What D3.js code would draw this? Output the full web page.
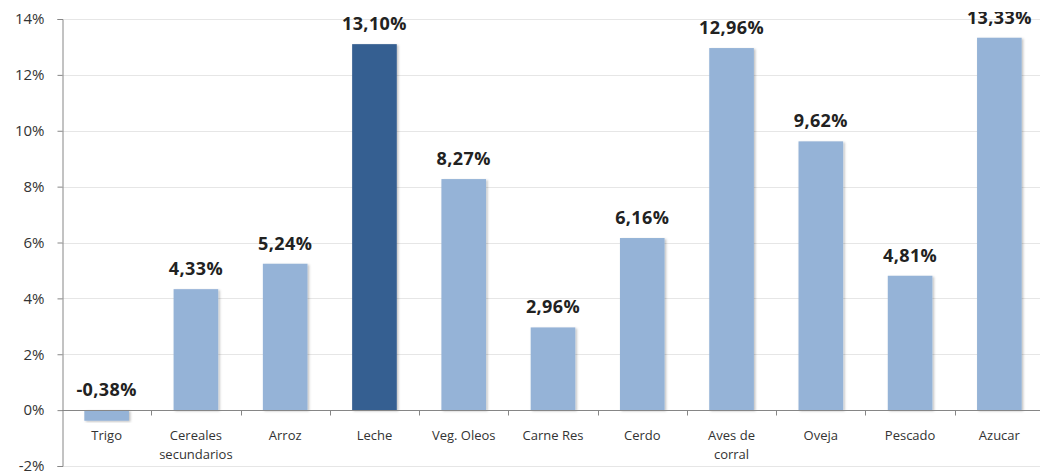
<!DOCTYPE html>
<html>
<head>
<meta charset="utf-8">
<script src="https://cdn.jsdelivr.net/npm/d3@7"></script>
<style>
  html, body { margin: 0; padding: 0; background: #fff; }
  svg { display: block; }
</style>
</head>
<body>
<svg id="chart" width="1040" height="473"></svg>
<script>
// Variación porcentual por producto
const categories = ["Trigo", "Cereales\nsecundarios", "Arroz", "Leche", "Veg. Oleos", "Carne Res", "Cerdo", "Aves de\ncorral", "Oveja", "Pescado", "Azucar"];
const values = [-0.38, 4.33, 5.24, 13.10, 8.27, 2.96, 6.16, 12.96, 9.62, 4.81, 13.33];
const highlighted = ["Leche"];
const yTicks = [-2, 0, 2, 4, 6, 8, 10, 12, 14];

const svg = d3.select("#chart");
const plotLeft = 62, plotRight = 1044, plotTop = 19, plotBottom = 466;

const x = d3.scaleBand().domain(categories).range([plotLeft, plotRight]).paddingInner(0.5).paddingOuter(0.25);
const y = d3.scaleLinear().domain([-2, 14]).range([plotBottom, plotTop]);

const fmt = v => v.toFixed(2).replace(".", ",") + "%";

// grid lines
svg.append("g").selectAll("line").data(yTicks).join("line")
  .attr("x1", plotLeft).attr("x2", 1040)
  .attr("y1", d => Math.round(y(d)) + 0.5).attr("y2", d => Math.round(y(d)) + 0.5)
  .attr("stroke", "#e6e6e6").attr("stroke-width", 1);

// y axis
const yAxis = svg.append("g").attr("transform", `translate(${plotLeft + 0.5},0)`)
  .call(d3.axisLeft(y).tickValues(yTicks).tickSize(5).tickPadding(13).tickFormat(d => d + "%"));
yAxis.select(".domain").attr("stroke", "#868686");
yAxis.selectAll(".tick line").attr("stroke", "#868686");
yAxis.selectAll(".tick text")
  .attr("font-family", "'Open Sans', 'Liberation Sans', sans-serif")
  .attr("font-size", 15).attr("fill", "#333");

// bar shadows
const defs = svg.append("defs");
const f = defs.append("filter").attr("id", "shadow").attr("x", "-20%").attr("y", "-20%").attr("width", "140%").attr("height", "140%");
f.append("feDropShadow").attr("dx", 1.5).attr("dy", 1).attr("stdDeviation", 1.2).attr("flood-color", "#000").attr("flood-opacity", 0.25);

svg.append("g").selectAll("rect").data(values).join("rect")
  .attr("x", (d, i) => x(categories[i]))
  .attr("width", x.bandwidth())
  .attr("y", d => y(Math.max(0, d)))
  .attr("height", d => Math.abs(y(d) - y(0)))
  .attr("fill", (d, i) => highlighted.includes(categories[i]) ? "#365F91" : "#95B3D7")
  .attr("filter", "url(#shadow)");

// x axis at 0%
const zeroY = Math.round(y(0)) + 0.5;
svg.append("line").attr("x1", plotLeft).attr("x2", 1040).attr("y1", zeroY).attr("y2", zeroY)
  .attr("stroke", "#868686");
const step = x.step();
svg.append("g").selectAll("line").data(d3.range(1, categories.length)).join("line")
  .attr("x1", i => Math.round(plotLeft + i * step) + 0.5).attr("x2", i => Math.round(plotLeft + i * step) + 0.5)
  .attr("y1", zeroY).attr("y2", zeroY + 5).attr("stroke", "#868686");

// category labels
const catG = svg.append("g");
categories.forEach((c, i) => {
  const t = catG.append("text")
    .attr("x", x(c) + x.bandwidth() / 2)
    .attr("y", 440)
    .attr("text-anchor", "middle")
    .attr("font-family", "'Open Sans', 'Liberation Sans', sans-serif")
    .attr("font-size", 13).attr("fill", "#333");
  c.split("\n").forEach((line, k) => {
    t.append("tspan").attr("x", x(c) + x.bandwidth() / 2).attr("dy", k === 0 ? 0 : 19).text(line);
  });
});

// value labels
defs.append("clipPath").attr("id", "labclip")
  .append("rect").attr("x", 0).attr("y", 12).attr("width", 1040).attr("height", 461);
svg.append("g").attr("clip-path", "url(#labclip)").selectAll("text").data(values).join("text")
  .attr("x", (d, i) => x(categories[i]) + x.bandwidth() / 2)
  .attr("y", d => y(Math.max(0, d)) - 14)
  .attr("text-anchor", "middle")
  .attr("font-family", "'Open Sans', 'Liberation Sans', sans-serif")
  .attr("font-weight", "bold").attr("font-size", 18).attr("letter-spacing", 0.4).attr("fill", "#222")
  .text(d => fmt(d));
</script>
</body>
</html>
